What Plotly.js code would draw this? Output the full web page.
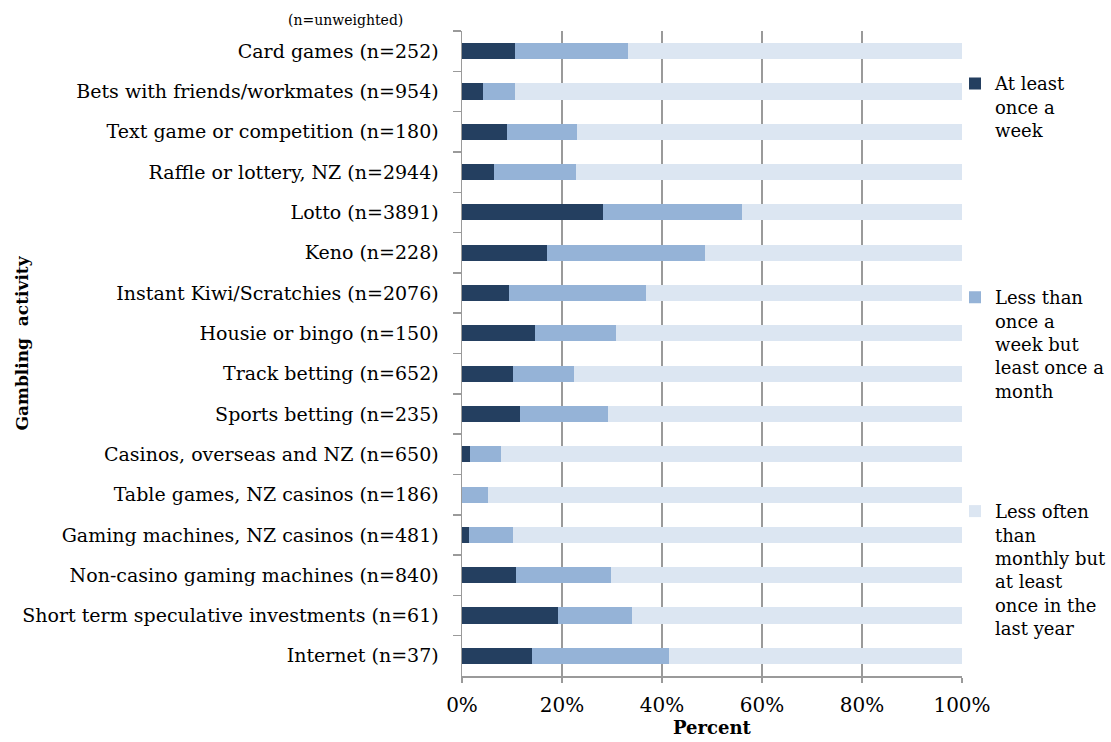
<!DOCTYPE html>
<html>
<head>
<meta charset="utf-8">
<script src="https://cdn.plot.ly/plotly-3.0.1.min.js"></script>
<style>html,body{margin:0;padding:0;background:#fff;}#chart{width:1111px;height:742px;}</style>
</head>
<body>
<div id="chart"></div>
<script>
const categories = [
  "Card games (n=252)",
  "Bets with friends/workmates (n=954)",
  "Text game or competition (n=180)",
  "Raffle or lottery, NZ (n=2944)",
  "Lotto (n=3891)",
  "Keno (n=228)",
  "Instant Kiwi/Scratchies (n=2076)",
  "Housie or bingo (n=150)",
  "Track betting (n=652)",
  "Sports betting (n=235)",
  "Casinos, overseas and NZ (n=650)",
  "Table games, NZ casinos (n=186)",
  "Gaming machines, NZ casinos (n=481)",
  "Non-casino gaming machines (n=840)",
  "Short term speculative investments (n=61)",
  "Internet (n=37)"
];
const weekly  = [10.5, 4.2, 9.0, 6.4, 28.1, 16.9, 9.3, 14.6, 10.2, 11.5, 1.6, 0.0, 1.4, 10.8, 19.2, 13.9];
const monthly = [22.7, 6.3, 14.0, 16.4, 27.8, 31.7, 27.5, 16.2, 12.1, 17.6, 6.2, 5.2, 8.7, 19.0, 14.7, 27.5];
const yearly  = weekly.map((w, i) => +(100 - w - monthly[i]).toFixed(1));

const seriesNames = [
  "At least<br>once a<br>week",
  "Less than<br>once a<br>week but<br>least once a<br>month",
  "Less often<br>than<br>monthly but<br>at least<br>once in the<br>last year"
];
const xTickVals = [0, 20, 40, 60, 80, 100];
const xTickText = ["0%", "20%", "40%", "60%", "80%", "100%"];

const colors = ["#243F60", "#95B3D7", "#DCE6F2"];
const serif = "DejaVu Serif, serif";
const seriesData = [weekly, monthly, yearly];
const legendIds = ["legend", "legend2", "legend3"];

const traces = seriesData.map((vals, k) => ({
  type: "bar",
  orientation: "h",
  y: categories,
  x: vals,
  name: seriesNames[k],
  marker: {color: colors[k], line: {width: 0}},
  legend: legendIds[k],
  hoverinfo: "x+y"
}));

const plotL = 461.7, plotR = 962, plotT = 30.8, plotB = 676.2;
const W = 1111, H = 742;
const pw = plotR - plotL, ph = plotB - plotT;
const px2x = px => (px - plotL) / pw;
const py2y = py => (plotB - py) / ph;

const legendBase = {
  x: px2x(955), xanchor: "left", yanchor: "top",
  font: {family: serif, size: 18, color: "#000"},
  bgcolor: "rgba(0,0,0,0)", borderwidth: 0,
  itemwidth: 30, valign: "top", itemclick: false
};

const layout = {
  width: W, height: H,
  margin: {l: plotL, r: W - plotR, t: plotT, b: H - plotB, pad: 0, autoexpand: false},
  paper_bgcolor: "#fff", plot_bgcolor: "#fff",
  barmode: "stack",
  bargap: 0.6,
  showlegend: true,
  legend: Object.assign({}, legendBase, {y: py2y(65)}),
  legend2: Object.assign({}, legendBase, {y: py2y(279)}),
  legend3: Object.assign({}, legendBase, {y: py2y(493)}),
  xaxis: {
    range: [0, 100],
    tickvals: xTickVals, ticktext: xTickText,
    showgrid: true, gridcolor: "#9a9a9a", gridwidth: 1.5,
    zeroline: false,
    showline: true, linecolor: "#9a9a9a", linewidth: 1.5,
    ticks: "outside", ticklen: 5, tickcolor: "#9a9a9a", tickwidth: 1.5,
    ticklabelstandoff: 5,
    tickfont: {family: serif, size: 20, color: "#000"},
    fixedrange: true
  },
  yaxis: {
    type: "category",
    categoryorder: "array", categoryarray: categories,
    autorange: "reversed",
    showgrid: false, zeroline: false,
    showline: true, linecolor: "#9a9a9a", linewidth: 1.5,
    ticks: "outside", ticklen: 8, tickcolor: "#9a9a9a", tickwidth: 1.5,
    tickson: "boundaries",
    ticklabelstandoff: 18,
    tickfont: {family: serif, size: 19, color: "#000"},
    fixedrange: true
  },
  annotations: [
    {text: "<b>Percent</b>", xref: "paper", yref: "paper", x: 0.5, y: py2y(728),
     xanchor: "center", yanchor: "middle", showarrow: false, borderpad: 0,
     font: {family: serif, size: 18, color: "#000"}},
    {text: "<b>Gambling  activity</b>", xref: "paper", yref: "paper", x: px2x(21), y: py2y(343),
     xanchor: "center", yanchor: "middle", showarrow: false, textangle: -90,
     font: {family: serif, size: 17, color: "#000"}},
    {text: "(n=unweighted)", xref: "paper", yref: "paper", x: px2x(345), y: py2y(20),
     xanchor: "center", yanchor: "middle", showarrow: false,
     font: {family: serif, size: 14, color: "#000"}}
  ]
};

Plotly.newPlot("chart", traces, layout, {displayModeBar: false, staticPlot: true});
</script>
</body>
</html>
